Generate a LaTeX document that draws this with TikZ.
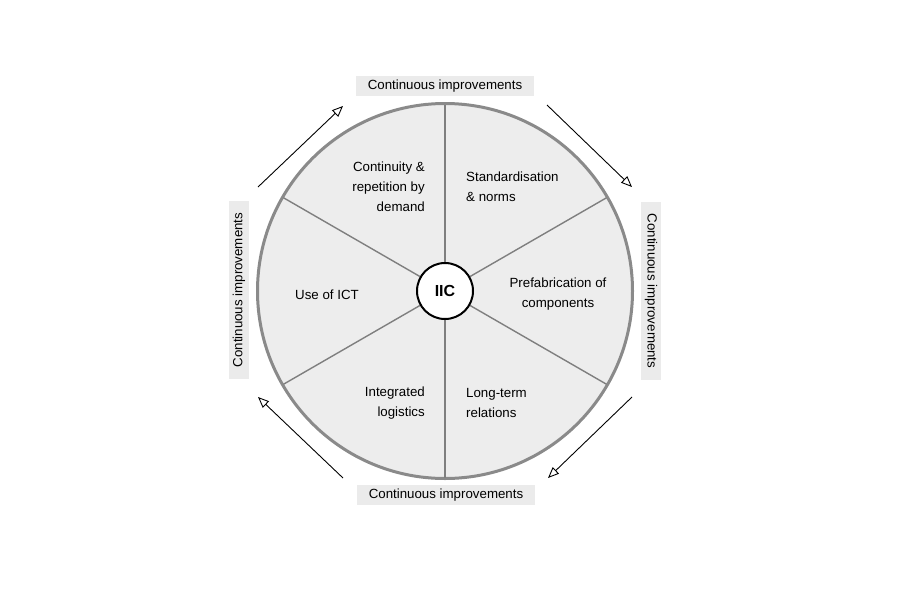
\documentclass[tikz,border=0pt]{standalone}
\usepackage{fontspec}
\setmainfont{Liberation Sans}
\usetikzlibrary{arrows.meta}
\definecolor{wheelfill}{HTML}{EDEDED}
\definecolor{wheelline}{HTML}{8A8A8A}
\definecolor{spoke}{HTML}{7F7F7F}
\definecolor{boxfill}{HTML}{EBEBEB}
\tikzset{
  lbl/.style={font=\fontsize{13.3}{20}\selectfont, inner sep=0pt},
  cibox/.style={fill=boxfill, font=\fontsize{13.3}{16}\selectfont, inner xsep=5pt, inner ysep=4pt, minimum width=178pt, minimum height=19pt},
  cycarrow/.style={black, line width=0.9pt, -{Triangle[open, length=11pt, width=9pt]}},
}
\begin{document}
\begin{tikzpicture}[x=1pt,y=-1pt]
\useasboundingbox (0,0) rectangle (900,600);
\fill[white] (0,0) rectangle (900,600);
\coordinate (c) at (445,291);
\node[circle, draw=wheelline, fill=wheelfill, line width=3pt, minimum size=375pt, inner sep=0pt] (wheel) at (c) {};
\foreach \a in {90,270,30,150,210,330}
  \draw[spoke, line width=1.4pt] (c) -- ++(\a:186.5);
\node[circle, draw=black, fill=white, line width=2pt, minimum size=56pt, inner sep=0pt, font=\fontsize{16}{18}\selectfont\bfseries] (iic) at (c) {IIC};
% sector labels
\node[lbl, align=right, anchor=east] (cont) at (425,187) {Continuity \&\\repetition by\\demand};
\node[lbl, align=left, anchor=west] (std) at (466,187) {Standardisation\\\& norms};
\node[lbl, align=center] (pref) at (558,294) {Prefabrication of\\components};
\node[lbl, align=center] (ict) at (327,295) {Use of ICT};
\node[lbl, align=right, anchor=east] (log) at (425,403) {Integrated\\logistics};
\node[lbl, align=left, anchor=west] (ltr) at (466,403) {Long-term\\relations};
% continuous improvements boxes
\node[cibox] (top) at (445,86) {Continuous improvements};
\node[cibox] (bot) at (446,495) {Continuous improvements};
\node[cibox, rotate=90] (left) at (239,290) {Continuous improvements};
\node[cibox, rotate=-90] (right) at (651,291) {Continuous improvements};
% arrows
\coordinate (tls) at (258,187); \coordinate (tle) at (343,106);
\coordinate (trs) at (547,105); \coordinate (tre) at (632,187);
\coordinate (brs) at (632,397); \coordinate (bre) at (548,478);
\coordinate (bls) at (343,478); \coordinate (ble) at (258,397);
\draw[cycarrow] (tls) -- (tle);
\draw[cycarrow] (trs) -- (tre);
\draw[cycarrow] (brs) -- (bre);
\draw[cycarrow] (bls) -- (ble);
\end{tikzpicture}
\end{document}
